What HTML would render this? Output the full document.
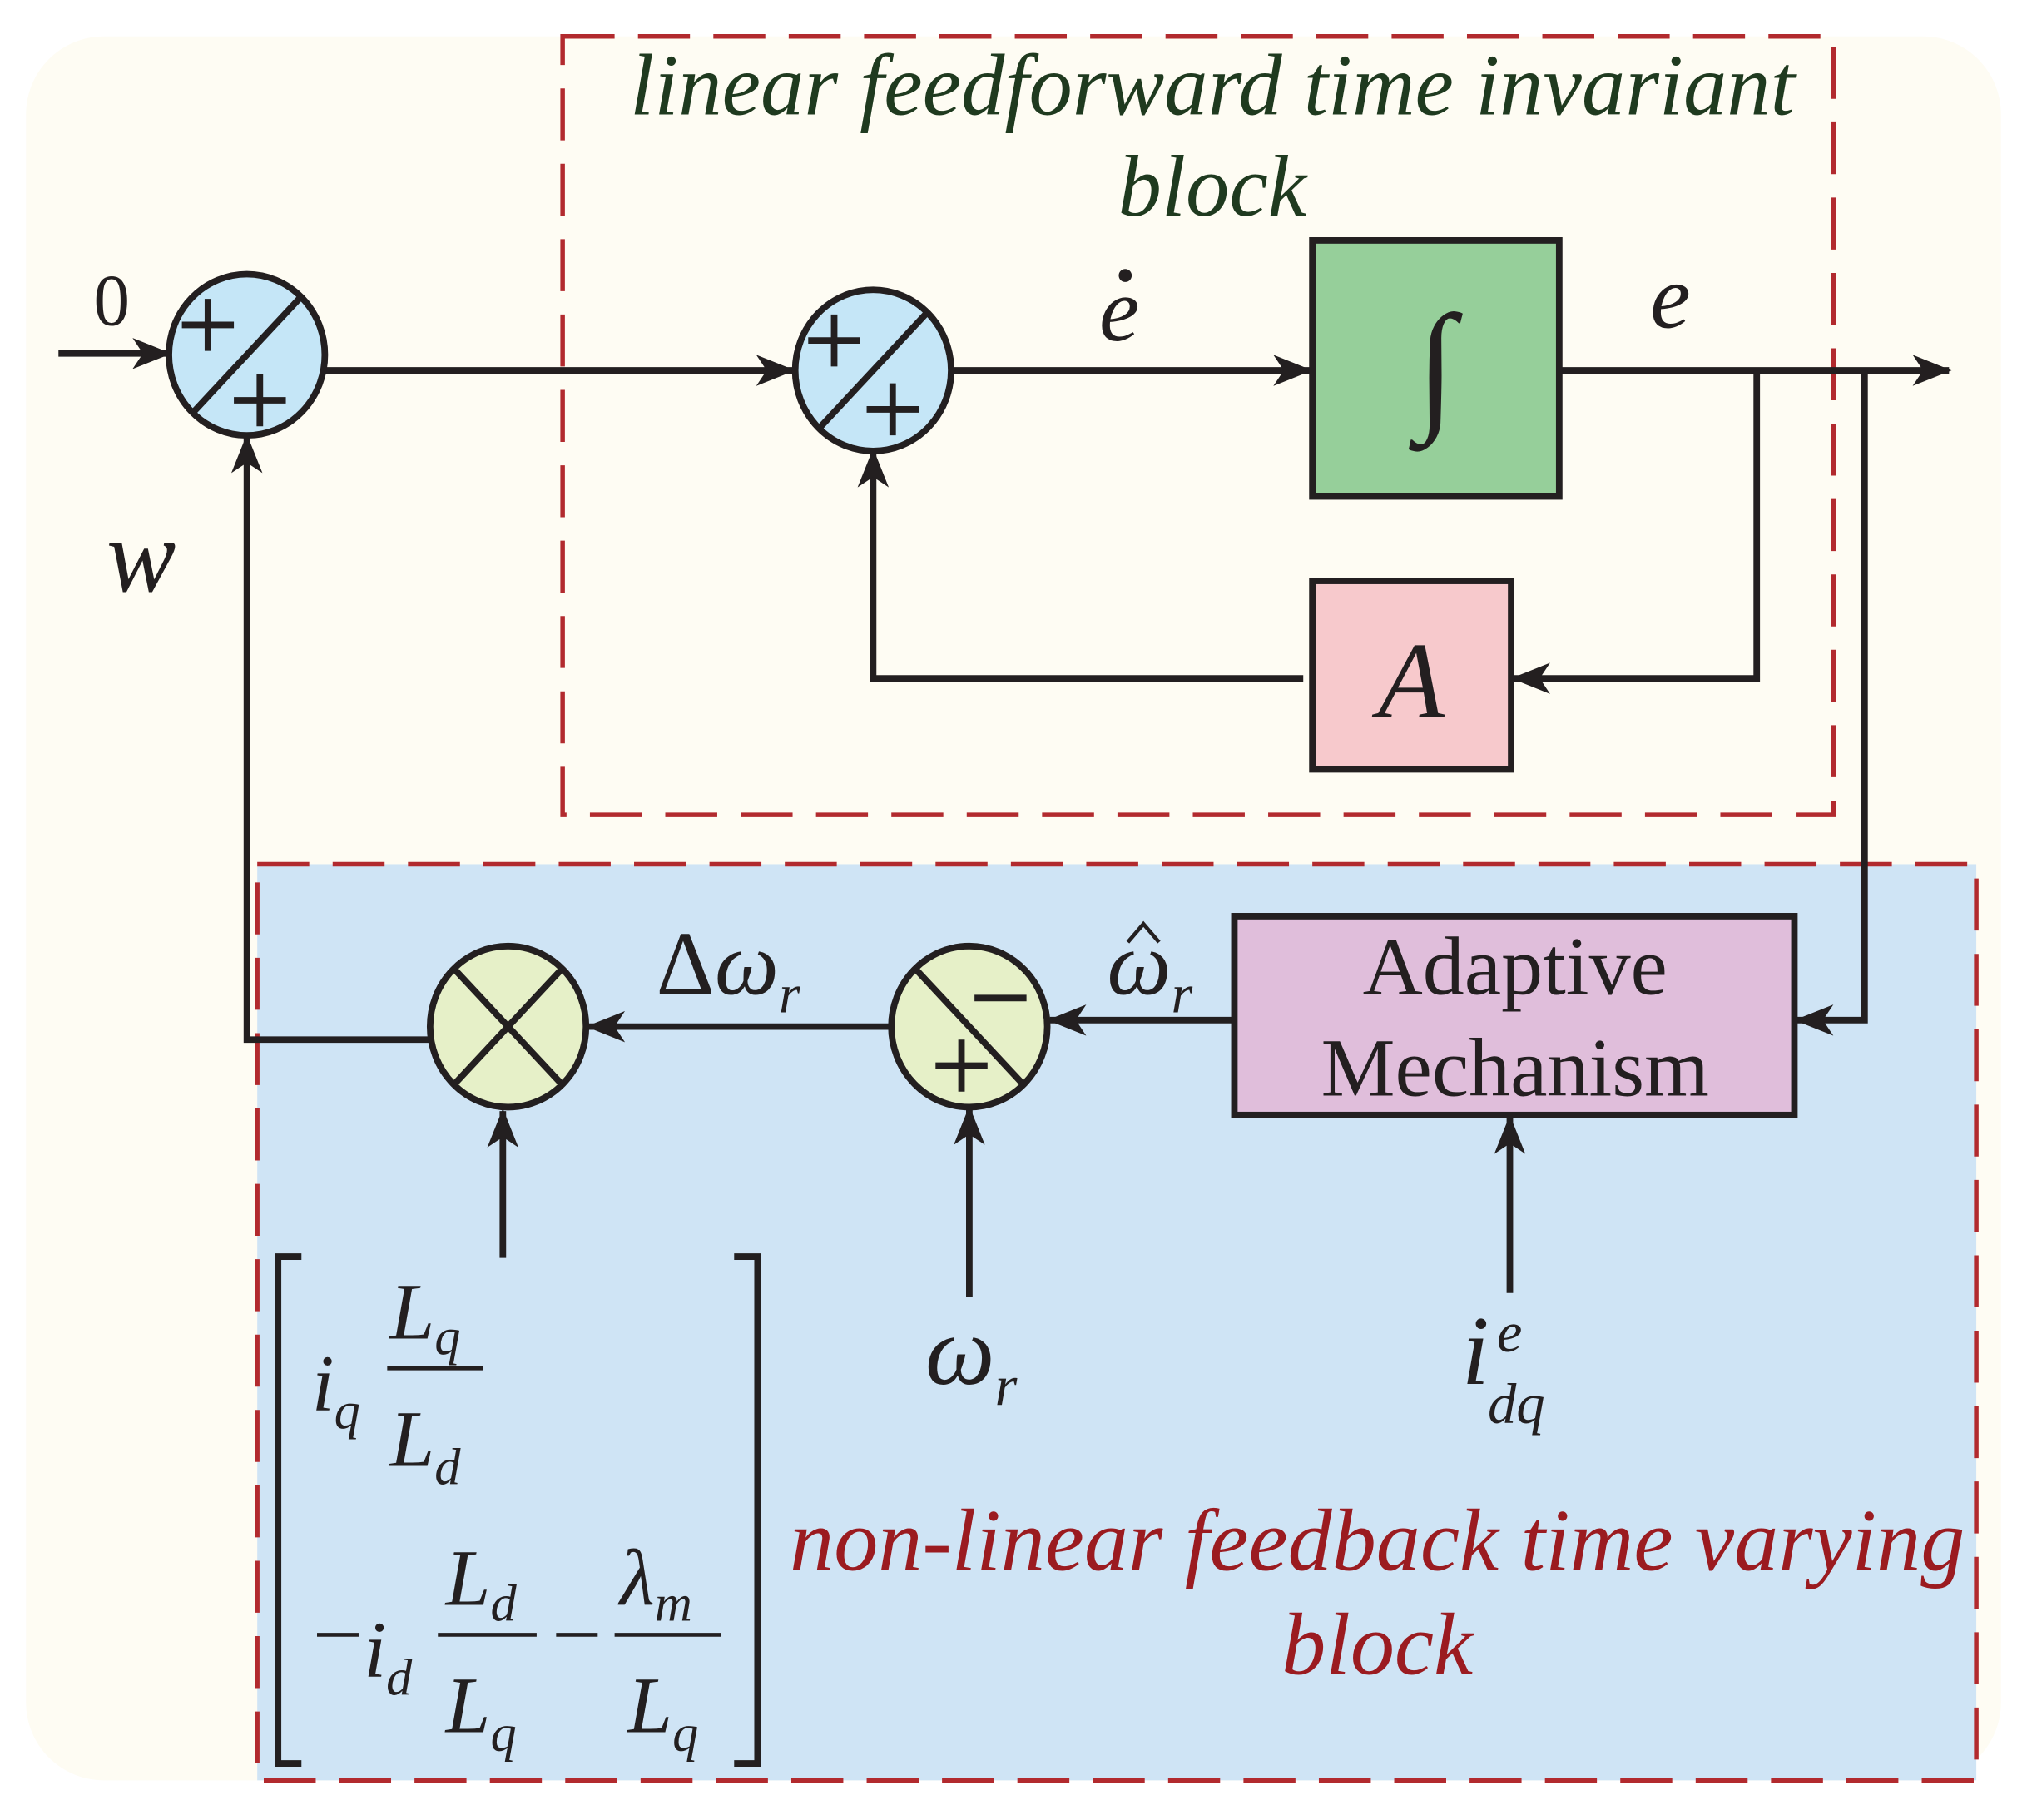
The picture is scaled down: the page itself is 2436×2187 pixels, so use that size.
<!DOCTYPE html>
<html><head><style>html,body{margin:0;padding:0;background:#fff}svg{display:block}</style></head><body>
<svg width="2436" height="2187" viewBox="0 0 1560 1400.5" xmlns="http://www.w3.org/2000/svg" font-family="Liberation Serif, serif">
<defs>
<marker id="ar" viewBox="0 0 30 24" refX="28" refY="12" markerWidth="30" markerHeight="24" markerUnits="userSpaceOnUse" orient="auto">
<path d="M0,0 L30,12 L0,24 L8,12 Z" fill="#231f20"/>
</marker>
</defs>
<rect x="20" y="28" width="1520" height="1342" rx="60" fill="#fefcf3"/>
<rect x="198" y="665" width="1323" height="705" fill="#cfe4f5"/>
<rect x="433" y="28" width="978" height="599" fill="none" stroke="#b22a2e" stroke-width="3.5" stroke-dasharray="40,18"/>
<rect x="198" y="665" width="1323" height="705" fill="none" stroke="#b22a2e" stroke-width="3.5" stroke-dasharray="40,18"/>
<g font-style="italic" font-size="67" fill="#1f3a1f" text-anchor="middle">
<text x="933" y="88">linear feedforward time invariant</text>
<text x="933" y="166">block</text>
</g>
<g font-style="italic" font-size="68" fill="#9b1b20" text-anchor="middle">
<text x="1060" y="1208">non-linear feedback time varying</text>
<text x="1060" y="1288">block</text>
</g>
<g stroke="#231f20" stroke-width="5" fill="none">
<line x1="45" y1="272" x2="130" y2="272" marker-end="url(#ar)"/>
<line x1="250" y1="285" x2="610" y2="285" marker-end="url(#ar)"/>
<line x1="733" y1="285" x2="1008" y2="285" marker-end="url(#ar)"/>
<line x1="1200" y1="285" x2="1500" y2="285" marker-end="url(#ar)"/>
<polyline points="1352,285 1352,522 1165,522" marker-end="url(#ar)"/>
<polyline points="1003,522 672,522 672,347" marker-end="url(#ar)"/>
<polyline points="1435,285 1435,785 1383,785" marker-end="url(#ar)"/>
<line x1="950" y1="785" x2="808" y2="785" marker-end="url(#ar)"/>
<line x1="686" y1="790" x2="453" y2="790" marker-end="url(#ar)"/>
<polyline points="331,800 190,800 190,336" marker-end="url(#ar)"/>
<line x1="387" y1="968" x2="387" y2="855" marker-end="url(#ar)"/>
<line x1="746" y1="998" x2="746" y2="853" marker-end="url(#ar)"/>
<line x1="1162" y1="995" x2="1162" y2="860" marker-end="url(#ar)"/>
</g>
<g stroke="#231f20" stroke-width="5">
<ellipse cx="190" cy="273" rx="60" ry="62" fill="#c5e6f7"/>
<line x1="148" y1="318" x2="232" y2="228"/>
<ellipse cx="672" cy="285" rx="60" ry="62" fill="#c5e6f7"/>
<line x1="630" y1="330" x2="714" y2="240"/>
<ellipse cx="746" cy="790" rx="60" ry="62" fill="#e6f0c8"/>
<line x1="704" y1="745" x2="788" y2="835"/>
<ellipse cx="391" cy="790" rx="60" ry="62" fill="#e6f0c8"/>
<line x1="349" y1="745" x2="433" y2="835"/>
<line x1="349" y1="835" x2="433" y2="745"/>
<rect x="1010" y="185" width="190" height="197" fill="#96cf9a"/>
<rect x="1010" y="447" width="153" height="145" fill="#f7c9cc"/>
<rect x="950" y="705" width="431" height="153" fill="#e0bedb"/>
</g>
<g stroke="#231f20" stroke-width="5" fill="none">
<path d="M140,250 h40 M160,230 v40"/>
<path d="M180,308 h40 M200,288 v40"/>
<path d="M622,262 h40 M642,242 v40"/>
<path d="M667,315 h40 M687,295 v40"/>
<path d="M750,768 h40"/>
<path d="M720,820 h40 M740,800 v40"/>
<path d="M232,967 h-18 v390 h18"/>
<path d="M565,967 h18 v390 h-18"/>
<line x1="298" y1="1053" x2="372" y2="1053" stroke-width="3"/>
<line x1="337" y1="1258" x2="413" y2="1258" stroke-width="3"/>
<line x1="473" y1="1258" x2="555" y2="1258" stroke-width="3"/>
<line x1="428" y1="1258" x2="460" y2="1258" stroke-width="3"/>
<line x1="244" y1="1258" x2="276" y2="1258" stroke-width="3"/>
</g>
<g fill="#231f20" font-size="58">
<text x="72" y="250" font-size="56">0</text>
<text x="82" y="455" font-style="italic" font-size="80">w</text>
<text x="846" y="262" font-style="italic" font-size="70">e</text>
<circle cx="866" cy="212" r="5"/>
<text x="1270" y="252" font-style="italic" font-size="70">e</text>
<text x="1105" y="318" font-size="110" text-anchor="middle" font-style="italic">∫</text>
<text x="1086" y="552" font-style="italic" font-size="84" text-anchor="middle">A</text>
<text x="1166" y="765" text-anchor="middle" font-size="64">Adaptive</text>
<text x="1166" y="843" text-anchor="middle" font-size="64">Mechanism</text>
<text x="505" y="765" font-size="70">Δ<tspan font-style="italic">ω</tspan><tspan font-style="italic" font-size="42" dy="14">r</tspan></text>
<text x="852" y="765" font-size="70" font-style="italic">ω<tspan font-size="42" dy="14">r</tspan></text>
<path d="M868,725 l12,-14 l12,14" stroke="#231f20" stroke-width="3" fill="none"/>
<text x="712" y="1065" font-size="76" font-style="italic">ω<tspan font-size="44" dy="16">r</tspan></text>
<text x="1125" y="1065" font-size="76" font-style="italic">i</text>
<text x="1152" y="1040" font-size="44" font-style="italic">e</text>
<text x="1145" y="1095" font-size="44" font-style="italic">dq</text>
<g font-style="italic">
<text x="240" y="1085" font-size="62">i<tspan font-size="40" dy="14">q</tspan></text>
<text x="300" y="1030" font-size="62">L<tspan font-size="40" dy="12">q</tspan></text>
<text x="300" y="1128" font-size="62">L<tspan font-size="40" dy="14">d</tspan></text>
<text x="280" y="1290" font-size="62">i<tspan font-size="40" dy="14">d</tspan></text>
<text x="343" y="1235" font-size="62">L<tspan font-size="40" dy="12">d</tspan></text>
<text x="343" y="1333" font-size="62">L<tspan font-size="40" dy="14">q</tspan></text>
<text x="477" y="1235" font-size="62">λ<tspan font-size="40" dy="12">m</tspan></text>
<text x="483" y="1333" font-size="62">L<tspan font-size="40" dy="14">q</tspan></text>
</g>
</g>
</svg>
</body></html>
